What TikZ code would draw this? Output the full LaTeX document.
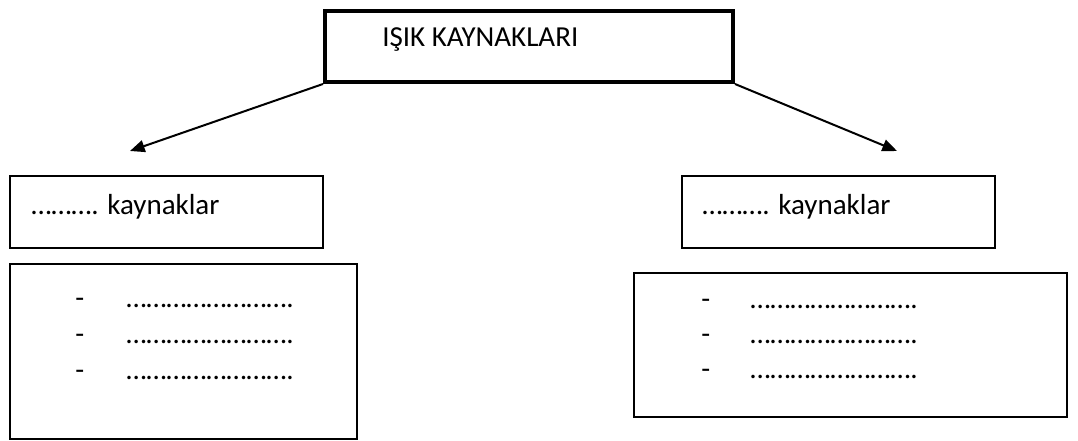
\documentclass[tikz,border=0pt]{standalone}
\usepackage{fontspec}
\setmainfont{Carlito}
\usetikzlibrary{arrows.meta}
\begin{document}
\begin{tikzpicture}[x=0.75pt,y=-0.75pt,
  box/.style={draw, line width=1.5pt, inner sep=0pt, anchor=north west},
  txt/.style={anchor=base west, inner sep=0pt, font=\fontsize{21.75pt}{26pt}\selectfont},
  link/.style={line width=1.5pt, -{Triangle[length=11pt,width=9pt]}}]
\useasboundingbox (0,0) rectangle (1078,441);

% title box
\node[box, line width=3pt, minimum width=306pt, minimum height=53.25pt] (top) at (323,9) {};
\node[txt] (title) at (382,47) {IŞIK KAYNAKLARI};

% category boxes
\node[box, minimum width=234.75pt, minimum height=54pt] (lhead) at (9,175) {};
\node[txt] (ltext) at (31,215) {………. kaynaklar};
\node[box, minimum width=234.75pt, minimum height=54pt] (rhead) at (681,175) {};
\node[txt] (rtext) at (702,215) {………. kaynaklar};

% list boxes
\node[box, minimum width=260.25pt, minimum height=131.25pt] (llist) at (9,263) {};
\node[box, minimum width=324.75pt, minimum height=108pt] (rlist) at (633,272) {};

% list entries
\foreach \y [count=\i] in {308,344,380} {
  \node[txt] (ld\i) at (75,\y) {-};
  \node[txt] (lf\i) at (126,\y) {…………………….};
}
\foreach \y [count=\i] in {309,344,379} {
  \node[txt] (rd\i) at (701,\y) {-};
  \node[txt] (rf\i) at (750,\y) {…………………….};
}

% arrows
\coordinate (ltip) at (130,151);
\coordinate (rtip) at (897,151);
\draw[link] (top.south west) -- (ltip);
\draw[link] (top.south east) -- (rtip);
\end{tikzpicture}
\end{document}
